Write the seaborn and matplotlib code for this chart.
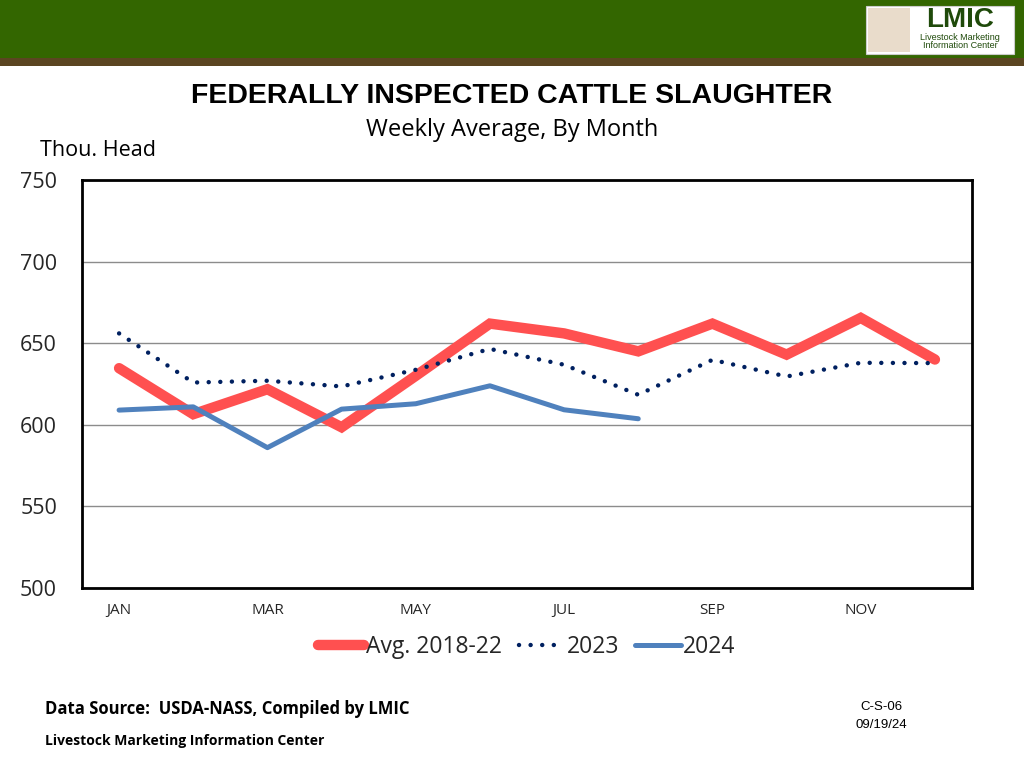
import numpy as np
import pandas as pd
import matplotlib
matplotlib.use("Agg")
import matplotlib.pyplot as plt
import seaborn as sns
from matplotlib.patches import Rectangle

# monthly weekly-average slaughter, thousand head
months = ["JAN", "FEB", "MAR", "APR", "MAY", "JUN", "JUL", "AUG", "SEP", "OCT", "NOV", "DEC"]
avg_2018_22 = [634.7, 606.5, 621.8, 598.5, 630.0, 662.0, 656.0, 645.0, 662.0, 643.0, 665.5, 640.0]
y2023 = [656.0, 625.9, 627.0, 623.5, 633.7, 646.5, 636.8, 618.4, 639.8, 629.6, 638.0, 637.8]
y2024 = [609.0, 611.0, 586.0, 609.6, 612.9, 623.9, 609.2, 603.7]

sns.set_theme(style="white")
plt.rcParams['font.family'] = ['Open Sans', 'DejaVu Sans']

fig = plt.figure(figsize=(10.24, 7.68), dpi=100)

# header banner
fig.patches.append(Rectangle((0, 1 - 58 / 768), 1, 58 / 768, transform=fig.transFigure,
                             facecolor="#336600", edgecolor="none", zorder=0))
fig.patches.append(Rectangle((0, 1 - 66 / 768), 1, 8 / 768, transform=fig.transFigure,
                             facecolor="#5b4521", edgecolor="none", zorder=0))
# logo box
fig.patches.append(Rectangle((866 / 1024, 1 - 54 / 768), 148 / 1024, 48 / 768, transform=fig.transFigure,
                             facecolor="white", edgecolor="#cccccc", lw=0.8, zorder=1))
fig.patches.append(Rectangle((868 / 1024, 1 - 52 / 768), 42 / 1024, 44 / 768, transform=fig.transFigure,
                             facecolor="#e9dccb", edgecolor="none", zorder=2))
fig.text(960 / 1024, 1 - 20 / 768, "LMIC", ha="center", va="center", fontsize=20, fontweight="bold",
         color="#1f4a0a", family="Liberation Sans", zorder=3)
fig.text(960 / 1024, 1 - 38 / 768, "Livestock Marketing", ha="center", va="center", fontsize=6.5,
         color="#1f4a0a", family="Liberation Sans", zorder=3)
fig.text(960 / 1024, 1 - 46 / 768, "Information Center", ha="center", va="center", fontsize=6.5,
         color="#1f4a0a", family="Liberation Sans", zorder=3)

fig.text(512 / 1024, 1 - 96 / 768, "FEDERALLY INSPECTED CATTLE SLAUGHTER", ha="center", va="center",
         fontsize=20.5, fontweight="bold", family="Liberation Sans", color="black")
fig.text(512 / 1024, 1 - 130 / 768, "Weekly Average, By Month", ha="center", va="center",
         fontsize=17, color="black")
fig.text(40 / 1024, 1 - 150 / 768, "Thou. Head", ha="left", va="center", fontsize=15.5, color="black")

ax = fig.add_axes([82 / 1024, 1 - 588 / 768, 890 / 1024, 408 / 768])

x_all = np.arange(len(months))
df_avg = pd.DataFrame({"x": x_all, "v": avg_2018_22})
df_23 = pd.DataFrame({"x": x_all, "v": y2023})
df_24 = pd.DataFrame({"x": x_all[:len(y2024)], "v": y2024})

sns.lineplot(data=df_avg, x="x", y="v", ax=ax, color="#ff5050", lw=7.5, sort=False,
             solid_capstyle="round", solid_joinstyle="miter", label="Avg. 2018-22", zorder=3)
sns.lineplot(data=df_23, x="x", y="v", ax=ax, color="#002060", lw=3.2, sort=False,
             label="2023", zorder=4)
ax.lines[-1].set_dashes((0.01, 2.6))
ax.lines[-1].set_dash_capstyle("round")
sns.lineplot(data=df_24, x="x", y="v", ax=ax, color="#4f81bd", lw=3.6, sort=False,
             solid_capstyle="round", label="2024", zorder=5)

ax.set_xlim(-0.5, 11.5)
ax.set_ylim(500, 750)
ax.set_yticks([500, 550, 600, 650, 700, 750])
ax.set_yticklabels(["500", "550", "600", "650", "700", "750"], fontsize=15.5)
ax.yaxis.grid(True, color="#8c8c8c", lw=1)
ax.set_axisbelow(True)
ax.set_xticks(x_all[::2])
ax.set_xticklabels(months[::2], fontsize=11)
ax.set_xticks(np.arange(-0.5, 12, 1), minor=True)
ax.tick_params(axis="x", which="major", length=0, pad=11)
ax.tick_params(axis="x", which="minor", length=5, width=1, color="black", direction="out")
ax.tick_params(axis="y", length=0, pad=18)
ax.set_xlabel("")
ax.set_ylabel("")
for s in ax.spines.values():
    s.set_visible(True)
    s.set_color("black")
    s.set_linewidth(2)

ax.legend(loc="upper center", bbox_to_anchor=(0.5, -0.065), ncol=3, frameon=False,
          fontsize=16.5, handlelength=2.0, handletextpad=0.1, columnspacing=0.7)
leg = ax.get_legend()
for h in leg.get_lines():
    if h.get_label() == "2023":
        h.set_dashes((0.01, 2.6))
        h.set_dash_capstyle("round")

fig.text(45 / 1024, 1 - 709 / 768, "Data Source:  USDA-NASS, Compiled by LMIC", ha="left", va="center",
         fontsize=12, fontweight="bold", color="black")
fig.text(45 / 1024, 1 - 741 / 768, "Livestock Marketing Information Center", ha="left", va="center",
         fontsize=10, fontweight="bold", color="black")
fig.text(881 / 1024, 1 - 707 / 768, "C-S-06", ha="center", va="center", fontsize=9.5,
         family="Liberation Sans", color="black")
fig.text(881 / 1024, 1 - 725 / 768, "09/19/24", ha="center", va="center", fontsize=9.5,
         family="Liberation Sans", color="black")

fig.savefig("out.png", dpi=100)
